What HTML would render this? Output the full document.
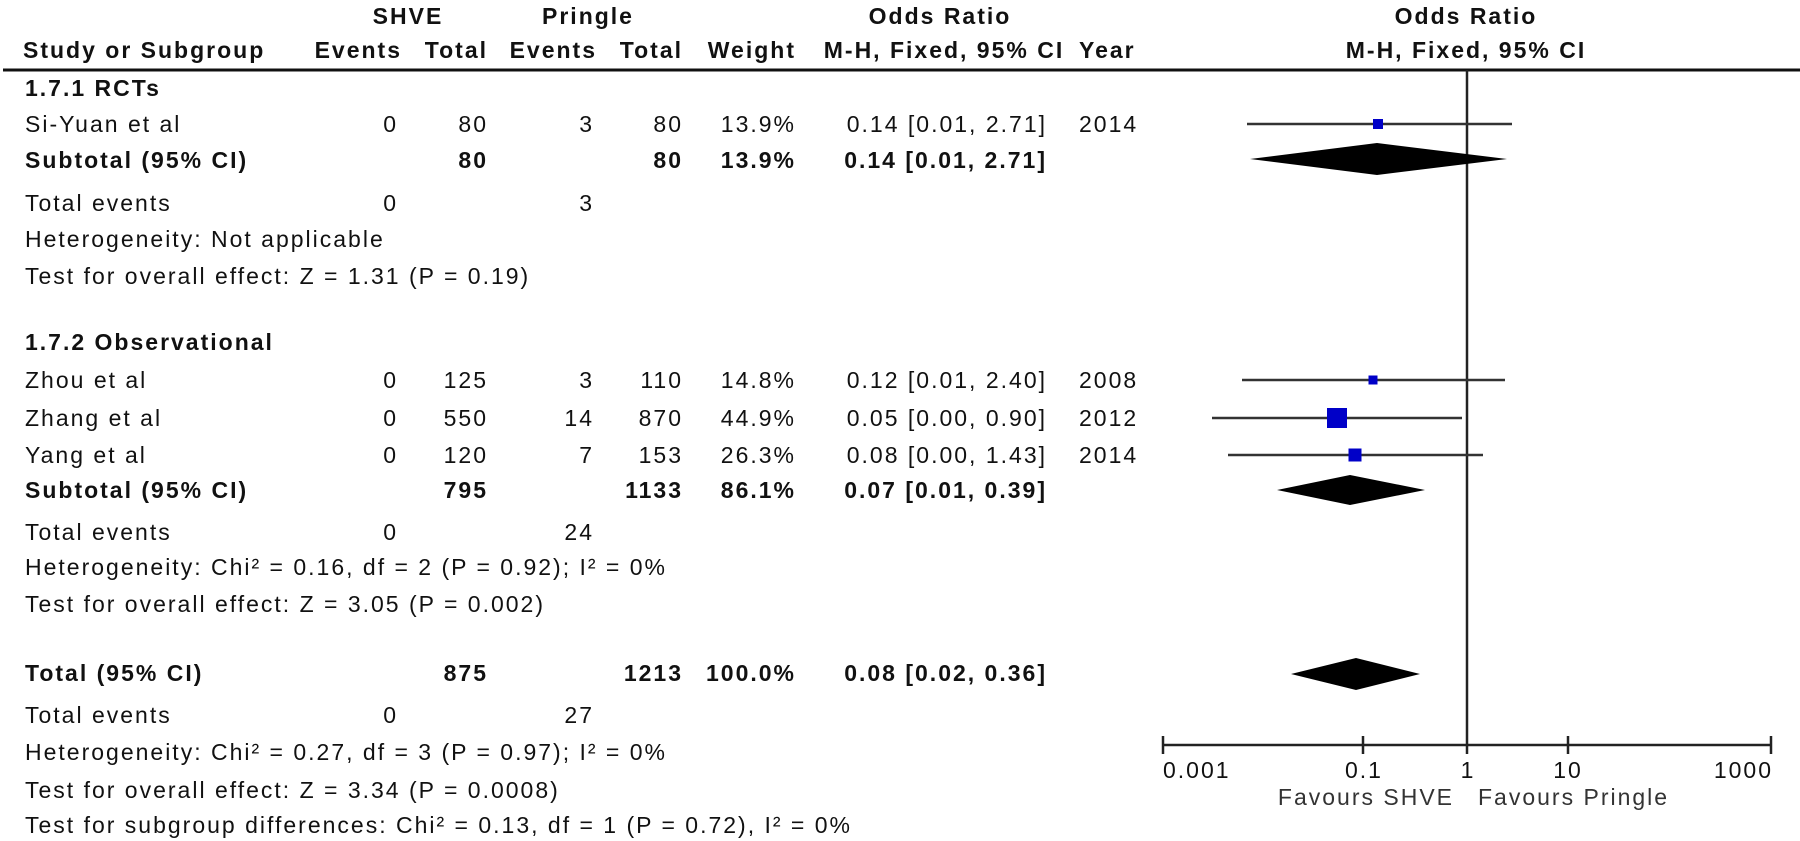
<!DOCTYPE html>
<html>
<head>
<meta charset="utf-8">
<style>
  html, body { margin:0; padding:0; background:#fff; }
  svg { display:block; }
  text { font-family: "Liberation Sans", Arial, sans-serif; font-size:23px; letter-spacing:2px; fill:#111; }
  .b { font-weight:bold; }
  .e { text-anchor:end; }
  .m { text-anchor:middle; }
  .fav { fill:#333; }
</style>
</head>
<body>
<svg width="1800" height="841" viewBox="0 0 1800 841" xmlns="http://www.w3.org/2000/svg">
  <!-- Header row 1 -->
  <text class="b m" x="408" y="24">SHVE</text>
  <text class="b m" x="588" y="24">Pringle</text>
  <text class="b m" x="940" y="24">Odds Ratio</text>
  <text class="b m" x="1466" y="24">Odds Ratio</text>

  <!-- Header row 2 -->
  <text class="b" x="23" y="58">Study or Subgroup</text>
  <text class="b e" x="402" y="58">Events</text>
  <text class="b e" x="488" y="58">Total</text>
  <text class="b e" x="597" y="58">Events</text>
  <text class="b e" x="683" y="58">Total</text>
  <text class="b e" x="796" y="58">Weight</text>
  <text class="b m" x="944" y="58">M-H, Fixed, 95% CI</text>
  <text class="b" x="1079" y="58">Year</text>
  <text class="b m" x="1466" y="58">M-H, Fixed, 95% CI</text>

  <line x1="3" y1="70" x2="1800" y2="70" stroke="#111" stroke-width="3"/>

  <!-- 1.7.1 RCTs -->
  <text class="b" x="25" y="96">1.7.1 RCTs</text>

  <text x="25" y="132">Si-Yuan et al</text>
  <text class="e" x="398" y="132">0</text>
  <text class="e" x="488" y="132">80</text>
  <text class="e" x="594" y="132">3</text>
  <text class="e" x="683" y="132">80</text>
  <text class="e" x="796" y="132">13.9%</text>
  <text class="e" x="1047" y="132">0.14 [0.01, 2.71]</text>
  <text x="1079" y="132">2014</text>

  <text class="b" x="25" y="168">Subtotal (95% CI)</text>
  <text class="b e" x="488" y="168">80</text>
  <text class="b e" x="683" y="168">80</text>
  <text class="b e" x="796" y="168">13.9%</text>
  <text class="b e" x="1047" y="168">0.14 [0.01, 2.71]</text>

  <text x="25" y="211">Total events</text>
  <text class="e" x="398" y="211">0</text>
  <text class="e" x="594" y="211">3</text>
  <text x="25" y="247">Heterogeneity: Not applicable</text>
  <text x="25" y="284">Test for overall effect: Z = 1.31 (P = 0.19)</text>

  <!-- 1.7.2 Observational -->
  <text class="b" x="25" y="350">1.7.2 Observational</text>

  <text x="25" y="388">Zhou et al</text>
  <text class="e" x="398" y="388">0</text>
  <text class="e" x="488" y="388">125</text>
  <text class="e" x="594" y="388">3</text>
  <text class="e" x="683" y="388">110</text>
  <text class="e" x="796" y="388">14.8%</text>
  <text class="e" x="1047" y="388">0.12 [0.01, 2.40]</text>
  <text x="1079" y="388">2008</text>

  <text x="25" y="426">Zhang et al</text>
  <text class="e" x="398" y="426">0</text>
  <text class="e" x="488" y="426">550</text>
  <text class="e" x="594" y="426">14</text>
  <text class="e" x="683" y="426">870</text>
  <text class="e" x="796" y="426">44.9%</text>
  <text class="e" x="1047" y="426">0.05 [0.00, 0.90]</text>
  <text x="1079" y="426">2012</text>

  <text x="25" y="463">Yang et al</text>
  <text class="e" x="398" y="463">0</text>
  <text class="e" x="488" y="463">120</text>
  <text class="e" x="594" y="463">7</text>
  <text class="e" x="683" y="463">153</text>
  <text class="e" x="796" y="463">26.3%</text>
  <text class="e" x="1047" y="463">0.08 [0.00, 1.43]</text>
  <text x="1079" y="463">2014</text>

  <text class="b" x="25" y="498">Subtotal (95% CI)</text>
  <text class="b e" x="488" y="498">795</text>
  <text class="b e" x="683" y="498">1133</text>
  <text class="b e" x="796" y="498">86.1%</text>
  <text class="b e" x="1047" y="498">0.07 [0.01, 0.39]</text>

  <text x="25" y="540">Total events</text>
  <text class="e" x="398" y="540">0</text>
  <text class="e" x="594" y="540">24</text>
  <text x="25" y="575">Heterogeneity: Chi² = 0.16, df = 2 (P = 0.92); I² = 0%</text>
  <text x="25" y="612">Test for overall effect: Z = 3.05 (P = 0.002)</text>

  <!-- Total -->
  <text class="b" x="25" y="681">Total (95% CI)</text>
  <text class="b e" x="488" y="681">875</text>
  <text class="b e" x="683" y="681">1213</text>
  <text class="b e" x="796" y="681">100.0%</text>
  <text class="b e" x="1047" y="681">0.08 [0.02, 0.36]</text>

  <text x="25" y="723">Total events</text>
  <text class="e" x="398" y="723">0</text>
  <text class="e" x="594" y="723">27</text>
  <text x="25" y="760">Heterogeneity: Chi² = 0.27, df = 3 (P = 0.97); I² = 0%</text>
  <text x="25" y="798">Test for overall effect: Z = 3.34 (P = 0.0008)</text>
  <text x="25" y="833">Test for subgroup differences: Chi² = 0.13, df = 1 (P = 0.72), I² = 0%</text>

  <!-- Forest plot -->
  <line x1="1467" y1="70" x2="1467" y2="754" stroke="#222" stroke-width="2.5"/>

  <!-- Si-Yuan -->
  <line x1="1247" y1="124" x2="1512" y2="124" stroke="#333" stroke-width="2.5"/>
  <rect x="1373" y="119" width="10" height="10" fill="#0000c8"/>
  <polygon points="1250,159 1377,143 1507,159 1377,175" fill="#000"/>

  <!-- Zhou -->
  <line x1="1242" y1="380" x2="1505" y2="380" stroke="#333" stroke-width="2.5"/>
  <rect x="1368.5" y="375.5" width="9" height="9" fill="#0000c8"/>
  <!-- Zhang -->
  <line x1="1212" y1="418" x2="1462" y2="418" stroke="#333" stroke-width="2.5"/>
  <rect x="1327" y="408" width="20" height="20" fill="#0000c8"/>
  <!-- Yang -->
  <line x1="1228" y1="455" x2="1483" y2="455" stroke="#333" stroke-width="2.5"/>
  <rect x="1348.5" y="448.5" width="13" height="13" fill="#0000c8"/>
  <!-- Subtotal obs -->
  <polygon points="1277,490 1350,475 1425,490 1350,505" fill="#000"/>
  <!-- Total -->
  <polygon points="1291,674 1356,658 1420,674 1356,690" fill="#000"/>

  <!-- Axis -->
  <line x1="1163" y1="745" x2="1771" y2="745" stroke="#222" stroke-width="2.5"/>
  <line x1="1163" y1="736" x2="1163" y2="754" stroke="#222" stroke-width="2.5"/>
  <line x1="1363" y1="736" x2="1363" y2="754" stroke="#222" stroke-width="2.5"/>
  <line x1="1568" y1="736" x2="1568" y2="754" stroke="#222" stroke-width="2.5"/>
  <line x1="1771" y1="736" x2="1771" y2="754" stroke="#222" stroke-width="2.5"/>

  <text x="1163" y="778">0.001</text>
  <text class="m" x="1364" y="778">0.1</text>
  <text class="m" x="1468" y="778">1</text>
  <text class="m" x="1568" y="778">10</text>
  <text class="e" x="1773" y="778">1000</text>

  <text class="e fav" x="1454" y="805">Favours SHVE</text>
  <text class="fav" x="1478" y="805">Favours Pringle</text>
</svg>
</body>
</html>
